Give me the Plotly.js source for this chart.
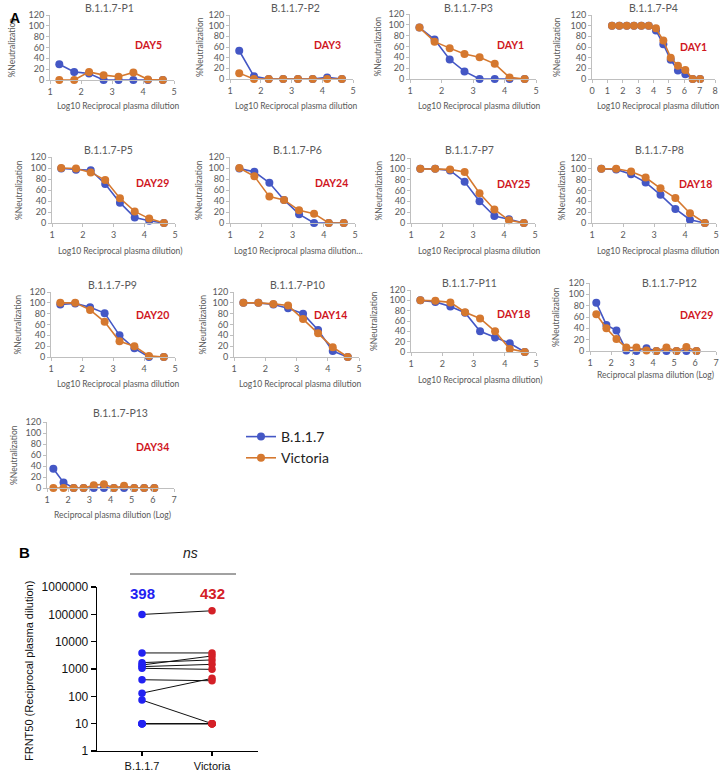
<!DOCTYPE html>
<html>
<head>
<meta charset="utf-8">
<script src="https://cdn.plot.ly/plotly-3.0.1.min.js"></script>
<style>
html,body{margin:0;padding:0;background:#fff;}
#chart{width:724px;height:773px;}
</style>
</head>
<body>
<div id="chart"></div>
<script>
// ---------- DATA ----------
// log10 reciprocal plasma dilutions (3-fold series starting at 1:20)
const dil8  = [1.30,1.78,2.26,2.73,3.21,3.69,4.16,4.64];
const dil11 = [1.30,1.78,2.26,2.73,3.21,3.69,4.16,4.64,5.12,5.59,6.07];
const dil13 = [1.30,1.78,2.26,2.73,3.21,3.69,4.16,4.64,5.12,5.59,6.07,6.55,7.03];

const seriesNames = ['B.1.1.7','Victoria'];
const panelTitles = ['B.1.1.7-P1','B.1.1.7-P2','B.1.1.7-P3','B.1.1.7-P4','B.1.1.7-P5','B.1.1.7-P6','B.1.1.7-P7',
                     'B.1.1.7-P8','B.1.1.7-P9','B.1.1.7-P10','B.1.1.7-P11','B.1.1.7-P12','B.1.1.7-P13'];
const dayLabels = ['DAY5','DAY3','DAY1','DAY1','DAY29','DAY24','DAY25','DAY18','DAY20','DAY14','DAY18','DAY29','DAY34'];
const xTitles = ['Log10 Reciprocal plasma dilution','Log10 Reciprocal plasma dilution','Log10 Reciprocal plasma dilution',
  'Log10 Reciprocal plasma dilution','Log10 Reciprocal plasma dilution)','Log10 Reciprocal plasma dilution…',
  'Log10 Reciprocal plasma dilution','Log10 Reciprocal plasma dilution','Log10 Reciprocal plasma dilution',
  'Log10 Reciprocal plasma dilution','Log10 Reciprocal plasma dilution)','Reciprocal plasma dilution (Log)',
  'Reciprocal plasma dilution (Log)'];

// % neutralization
const p1B  = [29,15,12,0,0,0,0,0];        const p1V  = [0,0,15,9,6,14,1,0];
const p2B  = [53,5,0,0,0,0,3,0];          const p2V  = [11,0,0,0,0,0,0,0];
const p3B  = [95,73,36,14,0,0,0,0];       const p3V  = [95,69,57,46,40,28,3,0];
const p4B  = [100,100,100,100,100,100,91,65,36,16,9,0,0];
const p4V  = [100,100,100,100,100,100,95,72,40,25,17,0,0];
const p5B  = [99,97,96,71,37,10,4,0];     const p5V  = [100,99,92,78,45,21,8,0];
const p6B  = [99,93,73,42,16,0,0,0];      const p6V  = [100,85,48,42,23,17,0,0];
const p7B  = [100,100,97,76,40,13,7,0];   const p7V  = [100,100,99,94,55,25,5,0];
const p8B  = [100,99,90,75,52,26,6,0];    const p8V  = [100,100,95,84,64,46,18,0];
const p9B  = [97,99,92,81,40,16,0,0];     const p9V  = [100,100,87,65,29,20,2,0];
const p10B = [100,100,97,90,80,50,11,0];  const p10V = [100,100,98,95,70,44,18,0];
const p11B = [100,97,88,76,40,28,17,0];   const p11V = [100,99,96,77,65,40,6,0];
const p12B = [85,46,36,1,0,5,0,0,0,0,0];  const p12V = [65,40,21,6,6,1,0,6,0,7,0];
const p13B = [35,10,0,0,0,0,0,0,0,0,0];   const p13V = [0,0,0,0,5,7,0,4,0,0,0];

const panelX = [dil8,dil8,dil8,dil13,dil8,dil8,dil8,dil8,dil8,dil8,dil8,dil11,dil11];
const panelB = [p1B,p2B,p3B,p4B,p5B,p6B,p7B,p8B,p9B,p10B,p11B,p12B,p13B];
const panelV = [p1V,p2V,p3V,p4V,p5V,p6V,p7V,p8V,p9V,p10V,p11V,p12V,p13V];

// Panel B: FRNT50 per patient
const frntGroups = ['B.1.1.7','Victoria'];
const frntB117 = [10,10,131,99000,1060,405,1220,1710,10,3870,1400,73,10];
const frntVic  = [10,10,454,135000,970,372,1480,2150,10,3870,3000,10,10];
const gmLabels = ['398','432'];
const yTickVals = [1,10,100,1000,10000,100000,1000000];
const yTickText = ['1','10','100','1000','10000','100000','1000000'];

// ---------- LAYOUT HELPERS ----------
const W = 724, H = 773;
const px = v => v / W;
const py = v => 1 - v / H;

// pixel boxes: [xLeft, xRight, yTop(120), yBottom(0)], x range
const boxes = [
  {b:[50,174,15,80],  xr:[1,5]}, {b:[230,353,15,79], xr:[1,5]}, {b:[410,536,14,79], xr:[1,5]}, {b:[592,715,15,79], xr:[0,8]},
  {b:[52,175,157,223],xr:[1,5]}, {b:[230,355,157,223],xr:[1,5]}, {b:[411,535,158,223],xr:[1,5]}, {b:[592,716,158,223],xr:[1,5]},
  {b:[51,175,292,357],xr:[1,5]}, {b:[234,359,292,357],xr:[1,5]}, {b:[411,536,290,352],xr:[1,5]}, {b:[590,716,283,351],xr:[1,7]},
  {b:[47,174,422,488],xr:[1,7]}
];
const titlePos = [[109,8],[295,8],[468,8],[653,8],[108,150],[297,150],[469,150],[659,150],[113,285],[297,285],[469,283],[669,283],[120,413]];
const dayPos = [[148,45],[327,45],[510,45],[693,47],[152,183],[331,183],[513,184],[695,184],[152,315],[330,315],[513,314],[696,315],[152,447]];
const yTitleX = [11,200,377,557,19,199,379,562,17,202,374,556,14];
const xTitlePos = [[118,106],[296,106],[479,106],[658,106],[120,251],[298,251],[479,251],[658,251],[118,384],[300,384],[480,380],[655,375],[112,515]];

const BLUE = '#4457C5', ORANGE = '#D5782F', AX = '#BFBFBF', TXT = '#595959', DAYRED = '#D0161E';
const FONT = 'Lato, "Open Sans", sans-serif';

const traces = [];
const layout = {
  width: W, height: H, margin: {l:0,r:0,t:0,b:0},
  paper_bgcolor: '#fff', plot_bgcolor: 'rgba(0,0,0,0)',
  showlegend: true,
  legend: {x: px(241), y: py(421), xanchor:'left', yanchor:'top', bgcolor:'rgba(0,0,0,0)',
           font:{family:FONT, size:14, color:'#222'}, tracegroupgap:0},
  annotations: [], shapes: []
};

boxes.forEach((bx, i) => {
  const n = i + 1, xa = 'x' + n, ya = 'y' + n;
  const [x0, x1, yt, yb] = bx.b;
  layout['xaxis' + n] = {
    domain: [px(x0), px(x1)], range: bx.xr, anchor: ya, dtick: 1, tick0: 0,
    showline: true, linecolor: AX, linewidth: 1, ticks: 'outside', ticklen: 3, tickcolor: AX,
    showgrid: false, zeroline: false, tickfont: {family: FONT, size: 9, color: TXT}, fixedrange: true
  };
  layout['yaxis' + n] = {
    domain: [py(yb), py(yt)], range: [0, 120], anchor: xa, dtick: 20, tick0: 0,
    showline: true, linecolor: AX, linewidth: 1, ticks: 'outside', ticklen: 3, tickcolor: AX,
    showgrid: false, zeroline: false, tickfont: {family: FONT, size: 9, color: TXT}, fixedrange: true
  };
  [[panelB[i], BLUE, seriesNames[0]], [panelV[i], ORANGE, seriesNames[1]]].forEach(([vals, col, nm]) => {
    traces.push({
      x: panelX[i].slice(0, vals.length), y: vals, xaxis: xa, yaxis: ya, name: nm,
      type: 'scatter', mode: 'lines+markers', cliponaxis: false,
      line: {color: col, width: 1.6}, marker: {color: col, size: 8},
      showlegend: i === 0, legendgroup: nm, hoverinfo: 'skip'
    });
  });
  layout.annotations.push(
    {text: panelTitles[i], x: px(titlePos[i][0]), y: py(titlePos[i][1]), xref:'paper', yref:'paper',
     showarrow:false, xanchor:'center', yanchor:'middle', font:{family:FONT, size:10.5, color:TXT}},
    {text: '<b>' + dayLabels[i] + '</b>', x: px(dayPos[i][0]), y: py(dayPos[i][1]), xref:'paper', yref:'paper',
     showarrow:false, xanchor:'center', yanchor:'middle', font:{family:FONT, size:10.5, color:DAYRED}},
    {text: '%Neutralization', x: px(yTitleX[i]), y: py((yt + yb) / 2), xref:'paper', yref:'paper', textangle:-90,
     showarrow:false, xanchor:'center', yanchor:'middle', font:{family:FONT, size:8.5, color:TXT}},
    {text: xTitles[i], x: px(xTitlePos[i][0]), y: py(xTitlePos[i][1]), xref:'paper', yref:'paper',
     showarrow:false, xanchor:'center', yanchor:'middle', font:{family:FONT, size:8.5, color:TXT}}
  );
});

// ---------- PANEL B ----------
const ARIAL = '"Liberation Sans", Arial, sans-serif';
const lx = [], ly = [];
frntB117.forEach((v, k) => { lx.push(0, 1, null); ly.push(v, frntVic[k], null); });
traces.push({x: lx, y: ly, xaxis:'x14', yaxis:'y14', type:'scatter', mode:'lines',
  line:{color:'#111', width:1}, showlegend:false, hoverinfo:'skip', cliponaxis:false});
traces.push({x: frntB117.map(() => 0), y: frntB117, xaxis:'x14', yaxis:'y14', type:'scatter', mode:'markers',
  marker:{color:'#2222F2', size:7.5}, showlegend:false, cliponaxis:false, hoverinfo:'skip'});
traces.push({x: frntVic.map(() => 1), y: frntVic, xaxis:'x14', yaxis:'y14', type:'scatter', mode:'markers',
  marker:{color:'#D42027', size:7.5}, showlegend:false, cliponaxis:false, hoverinfo:'skip'});

layout.xaxis14 = {domain:[px(97), px(258)], range:[-0.643, 1.657], anchor:'y14',
  tickvals:[0,1], ticktext: frntGroups, showline:true, linecolor:'#000', linewidth:1.3,
  ticks:'outside', ticklen:4, tickwidth:1.3, tickcolor:'#000', showgrid:false, zeroline:false,
  tickfont:{family:ARIAL, size:11, color:'#111'}, fixedrange:true};
layout.yaxis14 = {domain:[py(751), py(587)], type:'log', range:[0,6], anchor:'x14',
  tickvals: yTickVals, ticktext: yTickText, showline:true, linecolor:'#000', linewidth:1.3,
  ticks:'outside', ticklen:5, tickwidth:1.3, tickcolor:'#000', showgrid:false, zeroline:false,
  tickfont:{family:ARIAL, size:12, color:'#111'}, fixedrange:true};

layout.annotations.push(
  {text:'<b>' + gmLabels[0] + '</b>', x:0, y:Math.log10(560000), xref:'x14', yref:'y14', showarrow:false,
   font:{family:ARIAL, size:15, color:'#2222F2'}},
  {text:'<b>' + gmLabels[1] + '</b>', x:1, y:Math.log10(560000), xref:'x14', yref:'y14', showarrow:false,
   font:{family:ARIAL, size:15, color:'#D42027'}},
  {text:'<i>ns</i>', x:px(181), y:py(563), xref:'paper', yref:'paper', showarrow:false,
   font:{family:ARIAL, size:14, color:'#222'}},
  {text:'FRNT50 (Reciprocal plasma dilution)', x:px(29), y:py(671), xref:'paper', yref:'paper', textangle:-90,
   xanchor:'center', yanchor:'middle', showarrow:false, font:{family:ARIAL, size:11, color:'#111'}},
  {text:'<b>A</b>', x:px(8), y:py(8), xref:'paper', yref:'paper', showarrow:false,
   font:{family:ARIAL, size:14, color:'#000'}},
  {text:'<b>B</b>', x:px(17), y:py(563), xref:'paper', yref:'paper', showarrow:false,
   font:{family:ARIAL, size:15, color:'#000'}}
);
layout.shapes.push({type:'line', xref:'paper', yref:'paper', x0:px(130), x1:px(236), y0:py(574), y1:py(574),
  line:{color:'#444', width:1}});

Plotly.newPlot('chart', traces, layout, {staticPlot:true, displayModeBar:false});
</script>
</body>
</html>
